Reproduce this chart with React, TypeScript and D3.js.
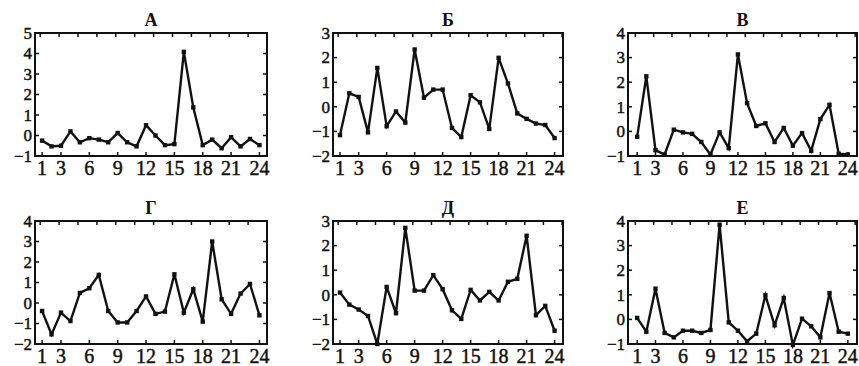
import React, { useRef, useEffect } from "react";
import * as d3 from "d3";

// Panel titles (Cyrillic letters)
const titles = ["А", "Б", "В", "Г", "Д", "Е"];

const xTickLabels = [1, 3, 6, 9, 12, 15, 18, 21, 24];

const seriesA = [-0.25, -0.53, -0.5, 0.2, -0.33, -0.13, -0.2, -0.33, 0.12, -0.33, -0.53, 0.5, 0, -0.47, -0.42, 4.08, 1.37, -0.47, -0.2, -0.62, -0.08, -0.53, -0.17, -0.47];
const seriesB = [-1.15, 0.55, 0.4, -1.04, 1.58, -0.79, -0.19, -0.64, 2.33, 0.37, 0.7, 0.7, -0.86, -1.23, 0.47, 0.18, -0.9, 1.99, 0.95, -0.27, -0.49, -0.68, -0.74, -1.27];
const seriesV = [-0.22, 2.24, -0.76, -0.94, 0.07, -0.04, -0.1, -0.43, -0.94, -0.04, -0.68, 3.13, 1.15, 0.22, 0.33, -0.43, 0.14, -0.58, -0.07, -0.79, 0.5, 1.08, -0.91, -0.94];
const seriesG = [-0.39, -1.53, -0.47, -0.88, 0.49, 0.72, 1.37, -0.39, -0.95, -0.95, -0.39, 0.32, -0.53, -0.42, 1.4, -0.47, 0.67, -0.91, 3.0, 0.18, -0.53, 0.46, 0.93, -0.6];
const seriesD = [0.09, -0.4, -0.6, -0.86, -2.0, 0.32, -0.75, 2.72, 0.17, 0.17, 0.8, 0.23, -0.63, -0.98, 0.2, -0.23, 0.12, -0.23, 0.53, 0.65, 2.4, -0.83, -0.45, -1.46];
const seriesE = [0.06, -0.5, 1.25, -0.55, -0.73, -0.46, -0.46, -0.55, -0.43, 3.85, -0.12, -0.46, -0.89, -0.58, 0.98, -0.24, 0.87, -1.04, 0.03, -0.28, -0.73, 1.07, -0.5, -0.58];

const allSeries = [seriesA, seriesB, seriesV, seriesG, seriesD, seriesE];
const yDomains: [number, number][] = [[-1, 5], [-2, 3], [-1, 4], [-2, 4], [-2, 3], [-1, 4]];

const WIDTH = 859;
const HEIGHT = 366;
const FONT = "'Liberation Serif', 'Times New Roman', serif";

export default function App() {
    const svgRef = useRef<SVGSVGElement>(null);

    useEffect(() => {
        if (!svgRef.current) return;
        const svg = d3.select(svgRef.current);
        svg.selectAll("*").remove();

        // layout per column / row
        const colLeft = [35, 333, 628];
        const colWidth = [232, 230, 229];
        const colXDomain: [number, number][] = [[0.25, 24.8], [0.25, 24.9], [0, 25]];
        const rowTop = [33, 221];
        const rowLabelOffset = [19, 19];
        const boxH = 123;
        const tick = 4;

        allSeries.forEach((values, i) => {
            const col = i % 3;
            const row = Math.floor(i / 3);
            const left = colLeft[col];
            const top = rowTop[row];
            const boxW = colWidth[col];
            const g = svg.append("g").attr("transform", `translate(${left},${top})`);

            const x = d3.scaleLinear().domain(colXDomain[col]).range([0, boxW]);
            const y = d3.scaleLinear().domain(yDomains[i]).range([boxH, 0]);

            // frame
            g.append("rect")
                .attr("width", boxW).attr("height", boxH)
                .attr("fill", "none").attr("stroke", "#111").attr("stroke-width", 2);

            // title
            g.append("text")
                .attr("x", boxW / 2).attr("y", -7)
                .attr("text-anchor", "middle")
                .attr("font-family", FONT).attr("font-size", 18).attr("font-weight", "bold")
                .attr("fill", "#111")
                .text(titles[i]);

            // y ticks (inward, both sides) + labels
            const yTicks = d3.range(yDomains[i][0], yDomains[i][1] + 1);
            yTicks.forEach(v => {
                g.append("line").attr("x1", 0).attr("x2", tick).attr("y1", y(v)).attr("y2", y(v))
                    .attr("stroke", "#111").attr("stroke-width", 1.5);
                g.append("line").attr("x1", boxW - tick).attr("x2", boxW).attr("y1", y(v)).attr("y2", y(v))
                    .attr("stroke", "#111").attr("stroke-width", 1.5);
                g.append("text")
                    .attr("x", -3).attr("y", y(v)).attr("dy", "0.34em")
                    .attr("text-anchor", "end")
                    .attr("font-family", FONT).attr("font-size", 17)
                    .attr("fill", "#111").attr("stroke", "#111").attr("stroke-width", 0.45)
                    .text(v < 0 ? `\u2212${Math.abs(v)}` : `${v}`);
            });

            // bottom ticks + labels
            xTickLabels.forEach(t => {
                g.append("line").attr("x1", x(t)).attr("x2", x(t)).attr("y1", boxH).attr("y2", boxH - tick)
                    .attr("stroke", "#111").attr("stroke-width", 1.5);
                g.append("text")
                    .attr("x", x(t)).attr("y", boxH + rowLabelOffset[row])
                    .attr("text-anchor", "middle")
                    .attr("font-family", FONT).attr("font-size", 20)
                    .attr("fill", "#111").attr("stroke", "#111").attr("stroke-width", 0.45)
                    .text(t);
            });

            // top ticks
            d3.range(0.8, 25, 2).forEach(t => {
                g.append("line").attr("x1", x(t)).attr("x2", x(t)).attr("y1", 0).attr("y2", tick)
                    .attr("stroke", "#111").attr("stroke-width", 1.5);
            });

            // line
            const line = d3.line<number>()
                .x((_, j) => x(j + 1))
                .y(d => y(d));

            g.append("path")
                .attr("d", line(values))
                .attr("fill", "none")
                .attr("stroke", "#111")
                .attr("stroke-width", 2.4)
                .attr("stroke-linejoin", "miter");

            g.selectAll(".pt")
                .data(values)
                .enter().append("rect")
                .attr("class", "pt")
                .attr("x", (_, j) => x(j + 1) - 2.2)
                .attr("y", d => y(d) - 2.2)
                .attr("width", 4.4).attr("height", 4.4)
                .attr("fill", "#111");
        });
    }, []);

    return (
        <svg
            ref={svgRef}
            width={WIDTH}
            height={HEIGHT}
            style={{ position: "absolute", left: 0, top: 0, background: "#fff" }}
        />
    );
}
